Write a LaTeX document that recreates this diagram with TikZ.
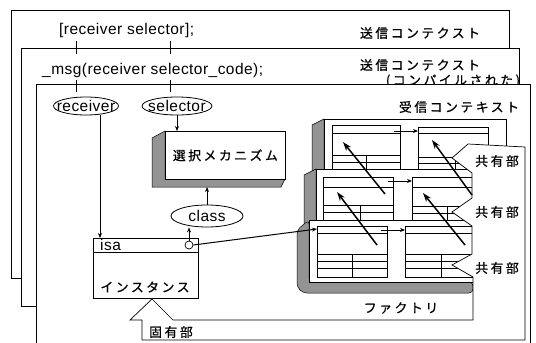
\documentclass[tikz,border=0pt]{standalone}
\usepackage{fontspec}
\setmainfont{Liberation Sans}[LetterSpace=3]
\newfontfamily\jp[LetterSpace=20,FakeBold=0.8]{Noto Sans CJK JP}
\usetikzlibrary{shapes.geometric,arrows.meta}
\begin{document}
\begin{tikzpicture}[x=1pt,y=-1pt,
  panel/.style={draw,fill=white,line width=0.7pt},
  lat/.style={font=\fontsize{15.5}{17}\selectfont,inner sep=0pt},
  jt/.style={font=\jp\fontsize{12.8}{14}\selectfont,inner sep=0pt},
  oval/.style={ellipse,draw,fill=white,line width=0.8pt,inner sep=0pt},
  arr/.style={-{Stealth[length=5pt,width=4pt]},line width=0.8pt},
  big/.style={-{Stealth[length=9pt,width=6pt]},line width=1.5pt},
  shd/.style={fill=black!42,draw,line width=0.5pt},
  face/.style={draw,fill=white,line width=0.7pt},
  tbl/.style={draw,fill=white,line width=0.7pt,inner sep=0pt,anchor=north west},
  rule/.style={line width=0.6pt},
]
\useasboundingbox (0,0) rectangle (536,343);
\clip (0,0) rectangle (536,343);
% context panels
\draw[panel] (11,10) rectangle (509,278);
\node[jt] (t1) at (420,33) {送信コンテクスト};
\node[lat,anchor=west] (m1) at (59,30) {[receiver selector];};
\draw[panel] (21,48) rectangle (519,306);
\node[jt] (t2) at (420,65) {送信コンテクスト};
\node[jt] (t2b) at (453,81) {(コンパイルされた)};
\node[lat,anchor=west] (m2) at (42,70) {\_msg(receiver selector\_code);};
\draw[panel] (36,84) rectangle (530,360);
\node[jt] (t3) at (459,107) {受信コンテキスト};
% ticks
\draw[line width=0.8pt] (76,41)--(76,54) (170,41)--(170,54) (76,80)--(76,92) (170,80)--(170,92);
% ellipses
\node[oval,minimum width=65pt,minimum height=18pt,label={[lat]center:receiver}] (recv) at (86,106) {};
\node[oval,minimum width=70pt,minimum height=18pt,label={[lat]center:selector}] (sel) at (177,106) {};
% selection mechanism block
\draw[shd] (152,138)--(165,131)--(165,179)--(285,179)--(281,187)--(152,187)--cycle;
\node[face,jt,minimum width=120pt,minimum height=48pt,anchor=north west] (mech) at (165,131) {選択メカニズム};
\coordinate (mechb) at (225,187);
% class
\node[oval,minimum width=72pt,minimum height=22pt,label={[lat]center:class}] (cls) at (207,216) {};
% instance
\node[face,minimum width=105pt,minimum height=60pt,anchor=north west] (inst) at (93,238) {};
\draw[rule] (93,252)--(198,252);
\node[lat,anchor=west] (isa) at (100,245) {isa};
\node[jt] (instl) at (145,287) {インスタンス};
\node[circle,draw,fill=white,inner sep=0pt,minimum size=8pt,line width=0.7pt] (ptr) at (189,245) {};
% arrows in main area
\draw[arr] ([xshift=14pt]recv.south) -- ([xshift=14pt]recv.south |- inst.north);
\draw[arr] (sel.south) -- (sel.south |- mech.north);
\draw[arr] (cls.north) -- (cls.north |- mechb);
\draw[arr] (ptr.north) -- (ptr.north |- cls.south);
% factory layer 1
\draw[shd] (312,125)--(324,119)--(324,175)--(312,175)--cycle;
\draw[face] (324,119) rectangle (506,175);
\node[tbl,minimum width=68pt,minimum height=47pt] (t1l) at (332,125) {};
\draw[rule] (332,133)--(400,133) (332,155)--(400,155) (332,162)--(400,162) (366,155)--(366,172);
\node[tbl,minimum width=70pt,minimum height=45pt] (t1r) at (418,127) {};
\draw[rule] (418,133)--(488,133) (418,157)--(488,157) (418,163)--(488,163) (455,157)--(455,172);
% factory layer 2
\draw[shd] (304,175)--(316,169)--(316,225)--(304,225)--cycle;
\draw[face] (316,169) rectangle (500,225);
\node[tbl,minimum width=70pt,minimum height=45pt] (t2l) at (323,177) {};
\draw[rule] (323,187)--(393,187) (323,205)--(393,205) (323,212)--(393,212) (360,205)--(360,222);
\node[tbl,minimum width=70pt,minimum height=45pt] (t2r) at (412,177) {};
\draw[rule] (412,187)--(482,187) (412,206)--(482,206) (412,213)--(482,213) (447,206)--(447,222);
% factory layer 3
\draw[shd,rounded corners=4pt] (297,230)--(309,220)--(309,282)--(473,282)--(473,293)--(303,293)--(297,287)--cycle;
\draw[face] (309,220) rectangle (500,282);
\node[tbl,minimum width=70pt,minimum height=51pt] (t3l) at (317,226) {};
\draw[rule] (317,233)--(387,233) (317,254)--(387,254) (317,261)--(387,261) (317,268)--(387,268) (352,254)--(352,277);
\node[tbl,minimum width=70pt,minimum height=51pt] (t3r) at (405,226) {};
\draw[rule] (405,233)--(475,233) (405,254)--(475,254) (405,261)--(475,261) (405,268)--(475,268) (441,254)--(441,277);
\node[jt] (fac) at (401,308) {ファクトリ};
% shared / own part outline
\draw[panel] (142,340)--(142,320)--(130,320)--(152,299)--(173,320)--(473,320)--(473,277)--(452,265)--(472,254)--(472,226)--(452,212)--(472,198)--(472,173)--(452,158)--(468,144)--(525,147)--(525,340)--cycle;
\node[jt] (own) at (171,332) {固有部};
\node[jt] (sh1) at (497,161) {共有部};
\node[jt] (sh2) at (497,212) {共有部};
\node[jt] (sh3) at (497,268) {共有部};
% class-to-class arrows
\draw[arr] ([xshift=-7pt,yshift=-6pt]t1l.north east) -- ([yshift=-4pt]t1r.north west);
\draw[arr] ([xshift=-6pt,yshift=-4pt]t2l.north east) -- ([yshift=-4pt]t2r.north west);
\draw[arr] ([xshift=-7pt,yshift=-4pt]t3l.north east) -- ([yshift=-4pt]t3r.north west);
\draw[big] ([shift={(62pt,-17pt)}]t2l.north west) -- ([shift={(11pt,-17pt)}]t1l.north west);
\draw[big] ([shift={(60pt,-18pt)}]t2r.north west) -- ([shift={(14pt,-13pt)}]t1r.north west);
\draw[big] ([shift={(60pt,-19pt)}]t3l.north west) -- ([shift={(14pt,-15pt)}]t2l.north west);
\draw[big] ([shift={(60pt,-19pt)}]t3r.north west) -- ([shift={(11pt,-16pt)}]t2r.north west);
% instance isa to factory
\draw[arr,line width=1pt] (ptr.east) -- ([yshift=-3pt]t3l.north west);
\end{tikzpicture}
\end{document}
